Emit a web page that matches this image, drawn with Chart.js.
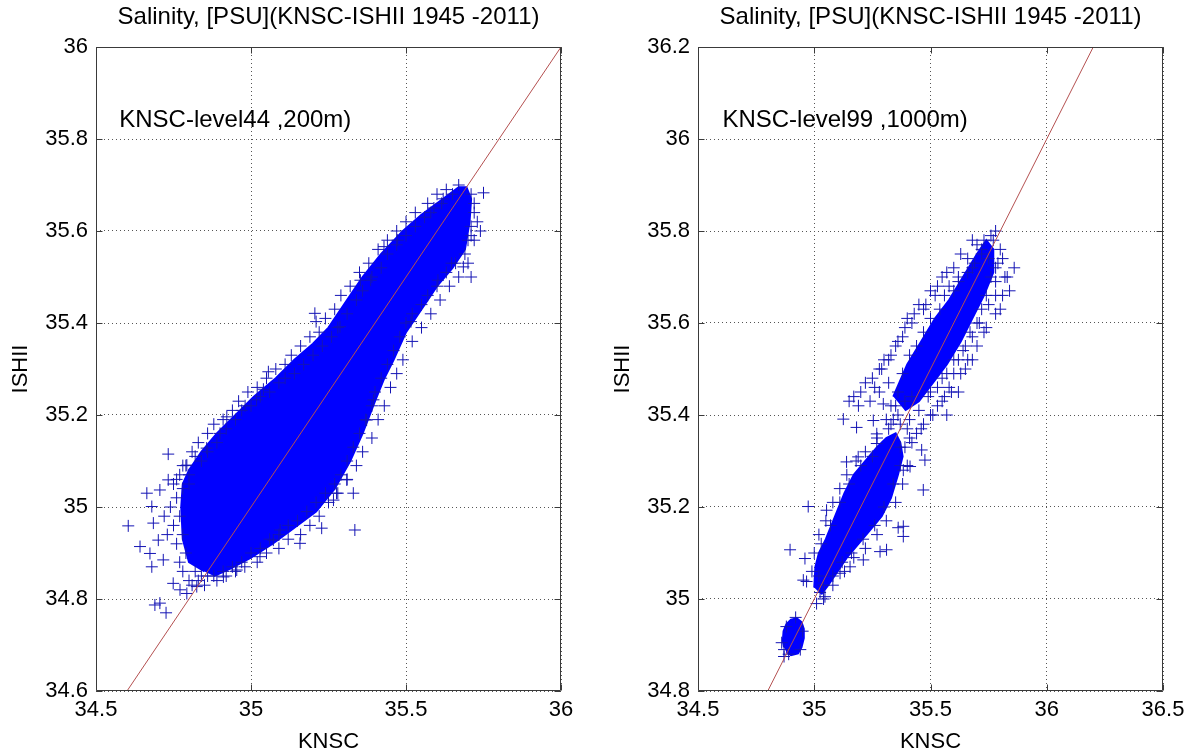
<!DOCTYPE html>
<html><head><meta charset="utf-8">
<script src="https://cdn.jsdelivr.net/npm/chart.js@4/dist/chart.umd.min.js"></script>
<style>
html,body{margin:0;padding:0;background:#fff;overflow:hidden}
#wrap{position:relative;width:1196px;height:755px;background:#fff}
canvas{position:absolute;top:0}
</style></head><body>
<div id="wrap">
<canvas id="c1" width="598" height="755" style="left:0"></canvas>
<canvas id="c2" width="598" height="755" style="left:598px"></canvas>
</div>
<script>
// ---------- text ----------
const panelTitle = 'Salinity, [PSU](KNSC-ISHII 1945 -2011)';
const leftNote = 'KNSC-level44 ,200m)';
const rightNote = 'KNSC-level99 ,1000m)';
const xAxisLabel = 'KNSC';
const yAxisLabel = 'ISHII';

// ---------- ticks ----------
const leftXTicks = [34.5, 35, 35.5, 36];
const leftYTicks = [34.6, 34.8, 35, 35.2, 35.4, 35.6, 35.8, 36];
const rightXTicks = [34.5, 35, 35.5, 36, 36.5];
const rightYTicks = [34.8, 35, 35.2, 35.4, 35.6, 35.8, 36, 36.2];

// ---------- 1:1 reference lines ----------
const leftRefLine = [[34.6, 34.6], [36, 36]];
const rightRefLine = [[34.8, 34.8], [36.2, 36.2]];

// ---------- left panel (200 m): outline of the saturated core of the cloud ----------
const leftCore = [
 [34.85,34.86],[34.80,34.88],[34.78,34.93],[34.775,35.00],[34.78,35.05],[34.80,35.08],[34.84,35.12],
 [34.89,35.16],[34.95,35.20],[35.01,35.24],[35.08,35.28],[35.14,35.32],[35.20,35.355],[35.25,35.39],
 [35.30,35.44],[35.36,35.50],[35.42,35.55],[35.49,35.60],[35.55,35.635],[35.62,35.67],[35.67,35.695],
 [35.695,35.695],[35.71,35.67],[35.705,35.62],[35.69,35.56],[35.65,35.52],[35.60,35.48],[35.56,35.44],
 [35.50,35.38],[35.46,35.32],[35.43,35.28],[35.40,35.23],[35.36,35.16],[35.32,35.10],[35.27,35.04],
 [35.21,34.99],[35.14,34.955],[35.07,34.92],[35.00,34.89],[34.93,34.865],[34.88,34.85]
];
// left panel: individual samples at the edges of the cloud
const leftSamples = [
 [34.80,35.07],[34.84,35.10],[34.86,35.12],[34.89,35.14],[34.92,35.17],[34.95,35.19],[34.97,35.21],[35.00,35.22],
 [35.03,35.24],[35.06,35.25],[35.09,35.27],[35.11,35.28],[35.14,35.29],[35.17,35.31],[35.20,35.33],[35.23,35.35],
 [35.26,35.37],[35.28,35.39],[35.31,35.42],[35.34,35.45],[35.36,35.47],[35.39,35.50],[35.42,35.52],[35.44,35.55],
 [35.47,35.57],[35.50,35.59],[35.53,35.61],[35.56,35.63],[35.59,35.65],[35.62,35.67],[35.65,35.68],[35.67,35.70],
 [35.71,35.68],[35.72,35.64],[35.71,35.61],[35.70,35.58],[35.69,35.55],[35.66,35.53],[35.63,35.51],[35.60,35.48],
 [35.57,35.46],[35.55,35.44],[35.52,35.42],[35.50,35.40],[35.48,35.37],[35.46,35.34],[35.44,35.31],[35.42,35.28],
 [35.40,35.25],[35.39,35.22],[35.37,35.19],[35.35,35.16],[35.33,35.13],[35.31,35.10],[35.29,35.07],[35.27,35.05],
 [35.24,35.03],[35.21,35.01],[35.18,34.99],[35.15,34.97],[35.12,34.96],[35.09,34.94],[35.06,34.93],[35.03,34.91],
 [35.00,34.90],[34.97,34.88],[34.94,34.87],[34.91,34.86],[34.88,34.85],
 [34.76,35.06],[34.78,35.09],[34.81,35.12],[34.83,35.14],[34.86,35.16],[34.88,35.18],[34.91,35.19],[34.94,35.21],
 [34.96,35.23],[34.99,35.25],[35.02,35.26],[35.05,35.28],[35.08,35.30],[35.11,35.31],[35.13,35.33],[35.16,35.35],
 [35.19,35.37],[35.22,35.38],[35.24,35.41],[35.27,35.43],[35.29,35.46],[35.32,35.48],[35.35,35.51],[35.38,35.53],
 [35.41,35.56],[35.44,35.58],[35.47,35.60],[35.50,35.62],[35.53,35.64],[35.57,35.66],[35.60,35.68],[35.63,35.69],
 [35.72,35.66],[35.73,35.62],[35.72,35.58],[35.70,35.53],[35.67,35.50],[35.64,35.48],[35.61,35.45],[35.58,35.42],
 [35.55,35.39],[35.52,35.36],[35.49,35.32],[35.47,35.29],[35.45,35.26],[35.43,35.22],[35.41,35.19],[35.39,35.15],
 [35.36,35.12],[35.34,35.09],[35.31,35.06],[35.28,35.03],[35.25,35.01],[35.22,34.98],[35.19,34.96],[35.16,34.94],
 [35.12,34.93],[35.09,34.91],[35.05,34.90],[35.02,34.88],[34.98,34.87],[34.95,34.86],[34.92,34.85],[34.89,34.84],
 [34.78,34.86],[34.80,34.84],[34.82,34.86],[34.84,34.85],[34.77,34.88],[34.79,34.90],[34.76,34.92],[34.78,34.94],
 [34.75,34.96],[34.77,34.98],[34.74,35.00],[34.76,35.02],[34.78,35.04],[34.80,35.05],[34.73,34.94],[34.72,34.98],
 [34.75,35.05],[34.77,35.07],[34.79,35.09],[34.82,35.11],[34.81,34.83],[34.83,34.84],[34.86,34.85],[34.85,34.83],
 [35.206,35.421],[35.21,35.403],[35.056,35.294],[35.04,35.256],[35.018,35.233],[34.981,35.220],[34.922,35.196],
 [34.90,35.160],[34.857,35.128],[34.733,35.115],[34.793,35.091],[34.733,35.059],[34.706,35.037],[34.664,35.030],
 [34.680,35.001],[34.604,34.959],[34.685,34.965],[34.642,34.914],[34.674,34.899],[34.701,34.928],[34.680,34.870],
 [34.717,34.885],[34.749,34.834],[34.771,34.820],[34.690,34.787],[34.706,34.791],[34.726,34.770],[34.793,34.812],
 [34.825,34.827],[34.911,34.848],[34.954,34.863],[35.029,34.892],[35.072,34.928],[35.158,34.921],[35.228,34.954],
 [35.335,34.950],[35.330,35.030],[35.309,35.059],[35.373,35.189],[35.395,35.233],[35.276,35.030],[35.266,35.015],
 [35.094,34.950],[35.75,35.683],[35.74,35.60],[35.685,35.522],[35.647,35.530],[35.603,35.493],[35.429,35.566],
 [35.473,35.580],[35.353,35.493],[35.386,35.493],[35.287,35.392],[35.516,35.403],[35.615,35.660],[35.58,35.64],
 [35.71,35.50],[35.71,35.59]
];

// ---------- right panel (1000 m): outlines of the saturated cores ----------
const rightCoreLow = [
 [34.88,34.885],[34.90,34.878],[34.93,34.882],[34.945,34.895],[34.955,34.915],[34.955,34.935],[34.945,34.95],
 [34.925,34.958],[34.90,34.955],[34.88,34.945],[34.868,34.93],[34.865,34.91],[34.87,34.895]
];
const rightCoreMid = [
 [35.00,35.025],[35.005,35.07],[35.02,35.10],[35.05,35.13],[35.09,35.18],[35.13,35.23],[35.17,35.27],[35.22,35.30],
 [35.27,35.33],[35.31,35.35],[35.35,35.36],[35.37,35.34],[35.38,35.31],[35.36,35.27],[35.33,35.22],[35.29,35.18],
 [35.24,35.15],[35.19,35.12],[35.14,35.09],[35.10,35.06],[35.06,35.03],[35.03,35.01]
];
const rightCoreHigh = [
 [35.34,35.44],[35.40,35.51],[35.46,35.56],[35.52,35.61],[35.58,35.65],[35.64,35.70],[35.70,35.75],[35.74,35.78],
 [35.77,35.76],[35.77,35.71],[35.73,35.66],[35.68,35.61],[35.63,35.56],[35.57,35.51],[35.51,35.47],[35.45,35.43],
 [35.39,35.41]
];
// right panel: individual samples
const rightSamples = [
 [34.87,34.89],[34.95,34.93],[34.92,34.96],[34.88,34.94],[34.86,34.905],[34.94,34.89],[34.89,34.88],[34.87,34.875],
 [34.896,35.107],[34.974,35.201],[34.960,35.088],[34.953,35.041],[35.025,35.014],[35.053,35.193],[35.139,35.298],
 [35.189,35.309],[35.269,35.338],[35.383,35.28],[35.412,35.288],[35.462,35.324],[35.476,35.302],[35.469,35.237],
 [35.383,35.158],[35.361,35.155],[35.383,35.136],[35.311,35.107],[35.283,35.103],[35.211,35.085],[35.154,35.070],
 [35.111,35.056],[35.046,35.005],[34.967,35.038],[35.02,35.05],[35.03,35.12],[35.07,35.16],[35.11,35.21],
 [35.15,35.25],[35.20,35.29],[35.25,35.31],[35.30,35.20],[35.26,35.16],[35.21,35.13],[35.16,35.10],[35.12,35.08],
 [35.08,35.05],[35.04,35.03],[35.34,35.25],[35.37,35.29],
 [34.99,35.06],[35.00,35.10],[35.02,35.14],[35.05,35.17],[35.08,35.21],[35.11,35.24],[35.14,35.27],[35.18,35.30],
 [35.22,35.32],[35.27,35.35],[35.32,35.37],[35.39,35.33],[35.40,35.29],[35.38,35.25],[35.35,35.21],[35.31,35.17],
 [35.27,35.14],[35.22,35.11],[35.17,35.09],[35.13,35.06],[35.08,35.03],[35.04,35.00],[35.01,34.99],
 [35.125,35.391],[35.182,35.373],[35.254,35.388],[35.269,35.359],[35.297,35.424],
 [35.33,35.38],[35.36,35.40],[35.39,35.43],[35.35,35.42],[35.31,35.39],[35.42,35.44],[35.40,35.37],
 [35.78,35.80],[35.76,35.79],[35.73,35.78],[35.80,35.76],[35.86,35.72],[35.84,35.67],[35.82,35.70],[35.80,35.63],
 [35.78,35.72],[35.75,35.74],[35.72,35.75],[35.70,35.77],[35.68,35.72],[35.66,35.74],[35.62,35.70],[35.60,35.72],
 [35.58,35.68],[35.55,35.70],[35.52,35.66],[35.50,35.67],[35.47,35.63],[35.45,35.64],[35.42,35.60],[35.40,35.61],
 [35.38,35.57],[35.35,35.55],[35.33,35.53],[35.30,35.52],[35.28,35.50],[35.25,35.48],[35.22,35.47],[35.20,35.45],
 [35.17,35.44],[35.15,35.43],[35.19,35.42],[35.24,35.43],[35.28,35.45],[35.32,35.47],
 [35.76,35.70],[35.74,35.66],[35.72,35.63],[35.70,35.60],[35.68,35.57],[35.65,35.55],[35.62,35.52],[35.60,35.49],
 [35.58,35.46],[35.56,35.44],[35.53,35.42],[35.50,35.40],[35.47,35.38],[35.44,35.36],[35.41,35.35],[35.65,35.50],
 [35.68,35.52],[35.62,35.45],[35.57,35.40],[35.73,35.58],[35.78,35.66],[35.55,35.48],[35.50,35.45],
 [35.26,35.46],[35.29,35.50],[35.32,35.52],[35.36,35.56],[35.39,35.59],[35.43,35.62],[35.48,35.64],[35.53,35.68],
 [35.57,35.71],[35.63,35.75],[35.68,35.78],[35.77,35.78],[35.81,35.74],[35.83,35.70],[35.81,35.66],[35.78,35.62],
 [35.74,35.59],[35.70,35.55],[35.66,35.52],[35.63,35.49],[35.59,35.45],[35.55,35.43],[35.51,35.40],[35.46,35.37],
 [35.42,35.34],[35.37,35.33],
 [35.33,35.42],[35.36,35.45],[35.38,35.49],[35.41,35.53],[35.44,35.55],[35.47,35.58],[35.50,35.61],[35.54,35.63],
 [35.56,35.66],[35.60,35.67],[35.62,35.69],[35.66,35.71],[35.69,35.73],[35.72,35.76],[35.79,35.73],[35.78,35.69],
 [35.75,35.64],[35.71,35.60],[35.67,35.58],[35.64,35.54],[35.60,35.52],[35.57,35.49],[35.53,35.46],[35.49,35.44],
 [35.45,35.41],[35.41,35.39],[35.37,35.38],[35.34,35.39]
];

// ---------- drawing ----------
const FONT = '"Liberation Sans", Arial, Helvetica, sans-serif';
const toXY = a => a.map(p => ({x: p[0], y: p[1]}));

const framePlugin = {
  id: 'frame',
  afterDatasetsDraw(chart, args, o) {
    const {ctx, chartArea: a, scales: {x, y}} = chart;
    ctx.save();
    ctx.strokeStyle = '#3a3a3a';
    ctx.lineWidth = 1;
    const L = Math.round(a.left) + 0.5, R = Math.round(a.right) - 0.5;
    const T = Math.round(a.top) + 0.5, B = Math.round(a.bottom) - 0.5;
    ctx.beginPath();
    ctx.rect(L, T, R - L, B - T);
    const tl = 6;
    for (const t of x.ticks) {
      const px = Math.round(x.getPixelForValue(t.value)) + 0.5;
      ctx.moveTo(px, B); ctx.lineTo(px, B - tl);
      ctx.moveTo(px, T); ctx.lineTo(px, T + tl);
    }
    for (const t of y.ticks) {
      const py = Math.round(y.getPixelForValue(t.value)) + 0.5;
      ctx.moveTo(L, py); ctx.lineTo(L + tl, py);
      ctx.moveTo(R, py); ctx.lineTo(R - tl, py);
    }
    ctx.stroke();
    ctx.restore();
  },
  afterDraw(chart, args, o) {
    const {ctx, chartArea: a, scales: {x, y}} = chart;
    ctx.save();
    ctx.fillStyle = '#000';
    ctx.font = o.titleSize + 'px ' + FONT;
    ctx.textAlign = 'center';
    ctx.textBaseline = 'middle';
    ctx.fillText(o.title, (a.left + a.right) / 2, o.titleY);
    ctx.font = o.noteSize + 'px ' + FONT;
    ctx.textAlign = 'left';
    ctx.fillText(o.note, x.getPixelForValue(o.noteX), y.getPixelForValue(o.noteY));
    ctx.restore();
  }
};

function scalesFor(xmin, xmax, xt, ymin, ymax, yt, yAxisWidth, yTitlePad) {
  const tickFont = {family: FONT, size: 22};
  return {
    x: {
      type: 'linear', min: xmin, max: xmax,
      afterBuildTicks: s => { s.ticks = xt.map(v => ({value: v})); },
      afterFit: s => { s.height = 64; },
      grid: {color: '#555', lineWidth: 1, drawTicks: false},
      border: {display: false, dash: [1, 3]},
      ticks: {font: tickFont, color: '#000', padding: 6, autoSkip: false, maxRotation: 0,
              callback: v => String(v)},
      title: {display: true, text: xAxisLabel, color: '#000', font: {family: FONT, size: 22},
              padding: {top: 0, bottom: 0}}
    },
    y: {
      type: 'linear', min: ymin, max: ymax,
      afterBuildTicks: s => { s.ticks = yt.map(v => ({value: v})); },
      afterFit: s => { s.width = yAxisWidth; },
      grid: {color: '#555', lineWidth: 1, drawTicks: false},
      border: {display: false, dash: [1, 3]},
      ticks: {font: tickFont, color: '#000', padding: 8, autoSkip: false,
              callback: v => String(v)},
      title: {display: true, text: yAxisLabel, color: '#000', font: {family: FONT, size: 22},
              padding: {top: yTitlePad, bottom: 0}}
    }
  };
}

const CROSS = '#1414b4';
const CORE = '#0000ff';
const REF = '#b45050';

function refDs(pts) {
  return {data: toXY(pts), showLine: true, borderColor: REF, borderWidth: 1,
          pointRadius: 0, fill: false, order: 0};
}
function coreDs(pts) {
  return {data: toXY(pts), showLine: true, fill: 'shape', backgroundColor: CORE,
          borderColor: CORE, borderWidth: 2, pointRadius: 0, order: 2};
}
function sampleDs(pts) {
  return {data: toXY(pts), showLine: false, pointStyle: 'cross', pointRadius: 6,
          pointBorderColor: CROSS, borderColor: CROSS, pointBorderWidth: 1,
          backgroundColor: CROSS, order: 1};
}

function makeChart(id, datasets, scales, padRight, note, noteX, noteY) {
  return new Chart(document.getElementById(id), {
    type: 'scatter',
    data: {datasets},
    options: {
      responsive: false, animation: false, devicePixelRatio: 1,
      layout: {padding: {left: 0, right: padRight, top: 47, bottom: 0}},
      scales,
      plugins: {
        legend: {display: false}, tooltip: {enabled: false}, title: {display: false},
        frame: {title: panelTitle, titleY: 17, titleSize: 24, note, noteX, noteY, noteSize: 24}
      }
    },
    plugins: [framePlugin]
  });
}

makeChart('c1',
  [refDs(leftRefLine), sampleDs(leftSamples), coreDs(leftCore)],
  scalesFor(34.5, 36, leftXTicks, 34.6, 36, leftYTicks, 96, 8),
  37, leftNote, 34.575, 35.84);

makeChart('c2',
  [refDs(rightRefLine), sampleDs(rightSamples), coreDs(rightCoreLow), coreDs(rightCoreMid), coreDs(rightCoreHigh)],
  scalesFor(34.5, 36.5, rightXTicks, 34.8, 36.2, rightYTicks, 100, 12),
  33, rightNote, 34.605, 36.04);
</script>
</body></html>
